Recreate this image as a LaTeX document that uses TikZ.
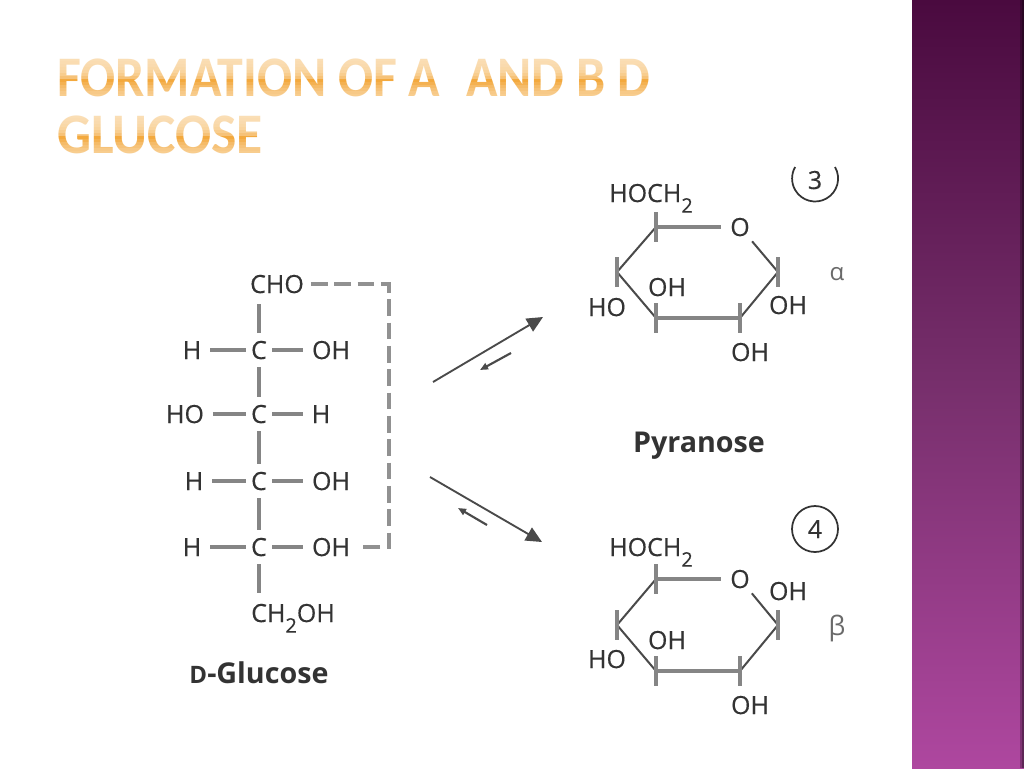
\documentclass[tikz,border=0pt]{standalone}
\usepackage{fontspec}
\setmainfont{Open Sans}
\newfontfamily\labfont{Open Sans}[FakeBold=0.35]
\newfontfamily\titlefont{Carlito}
\usetikzlibrary{arrows.meta,calc}
\definecolor{ink}{HTML}{333333}
\definecolor{bondgrey}{HTML}{858585}
\definecolor{thingrey}{HTML}{4A4A4A}
\definecolor{sidetop}{HTML}{4A0A3F}
\definecolor{sidemid}{HTML}{772F6C}
\definecolor{sidebot}{HTML}{AE479F}
\definecolor{titleorange}{HTML}{F3A93E}
\newcommand{\lab}{\labfont\fontsize{18.75}{18.75}\selectfont}
\newcommand{\subtwo}{\raisebox{-8pt}{\fontsize{15}{15}\selectfont 2}}
\tikzset{
  x=0.75pt,y=-0.75pt,
  atom/.style={inner sep=0pt,text=ink,text height=13.5pt,text depth=0pt,font=\lab,outer xsep=6.75pt,outer ysep=8pt},
  catom/.style={atom,outer xsep=4pt,outer ysep=6pt},
  bond/.style={draw=bondgrey,line width=2.3pt},
  dashbond/.style={draw=bondgrey!90!white,line width=2.3pt,dash pattern=on 12.5pt off 5pt},
  thinbond/.style={draw=thingrey,line width=1.5pt},
  flatbond/.style={draw=bondgrey,line width=2.4pt},
  tickbond/.style={draw=bondgrey,line width=2.3pt},
  bigarrow/.style={draw=thingrey,line width=1.4pt,-{Triangle[length=12pt,width=11pt]}},
  smallarrow/.style={draw=thingrey,line width=1.6pt,-{Triangle[length=6pt,width=5pt]}},
  caption/.style={inner sep=0pt,text=ink,font=\bfseries\fontsize{21.5}{21.5}\selectfont},
  greek/.style={inner sep=0pt,text=bondgrey!80!black,font=\fontsize{18}{18}\selectfont},
  titletext/.style={inner sep=0pt,anchor=base west,text=titleorange,xscale=0.905,transform shape,
    font=\titlefont\bfseries\fontsize{43}{43}\selectfont},
}
\begin{document}
\begin{tikzpicture}
\useasboundingbox (0,0) rectangle (1024,768);
\fill[white] (0,0) rectangle (1024,768);
% sidebar
\shade[top color=sidetop,bottom color=sidemid] (912,0) rectangle (1024,384.5);
\shade[top color=sidemid,bottom color=sidebot] (912,384) rectangle (1024,768);
\fill[black,opacity=.25] (1020,0) rectangle (1022,768);
\fill[black,opacity=.45] (1022,0) rectangle (1024,768);
% title
\node[titletext] (t1) at (57,96) {FORMATION OF A\,\,\,AND B D};
\node[titletext,xscale=1.03] (t2) at (57,153) {GLUCOSE};
\foreach \yy in {58,115}{
  \foreach \d/\o in {0/.62,3/.60,6/.58,9/.55,12/.50,15/.42,18/.30,21/.0,24/.10,27/.22,30/.30,33/.38,36/.42,39/.45}{
    \fill[white,opacity=\o] (40,\yy+\d) rectangle (680,\yy+\d+3);
  }
}
% open chain
\node[atom] (cho) at (277,284) {CHO};
\node[catom] (c2) at (259,350) {C};
\node[catom] (c3) at (259,414) {C};
\node[catom] (c4) at (259,481) {C};
\node[catom] (c5) at (259,547) {C};
\node[atom] (ch2oh) at (293,613) {CH\subtwo OH};
\node[atom] (h2) at (192,350) {H};
\node[atom] (oh2) at (331,350) {OH};
\node[atom] (ho3) at (185,414) {HO};
\node[atom] (h3) at (321,414) {H};
\node[atom] (h4) at (194,481) {H};
\node[atom] (oh4) at (331,481) {OH};
\node[atom] (h5) at (192,547) {H};
\node[atom] (oh5) at (331,547) {OH};
\draw[bond] (c2) -- (c2 |- cho.south);
\draw[bond] (c2) -- (c3);
\draw[bond] (c3) -- (c4);
\draw[bond] (c4) -- (c5);
\draw[bond] (c5) -- (c5 |- ch2oh.north);
\draw[bond] (h2) -- (c2);
\draw[bond] (c2) -- (oh2);
\draw[bond] (ho3) -- (c3);
\draw[bond] (c3) -- (h3);
\draw[bond] (h4) -- (c4);
\draw[bond] (c4) -- (oh4);
\draw[bond] (h5) -- (c5);
\draw[bond] (c5) -- (oh5);
\coordinate (cornera) at (389,284);
\coordinate (cornerb) at (389,547);
\draw[dashbond] ($(cho.east)+(-2,0)$) -- (cornera) -- (cornerb) -- ($(oh5.east)+(2,0)$);
\node[caption] (dglu) at (259,673) {{\fontsize{18}{18}\selectfont D}-Glucose};
% arrows
\coordinate (ua) at (433,382); \coordinate (ub) at (543,317);
\coordinate (uc) at (511,353); \coordinate (ud) at (480,370);
\coordinate (la) at (430,477); \coordinate (lb) at (542,542);
\coordinate (lc) at (487,525); \coordinate (ld) at (458,508);
\draw[bigarrow] (ua) -- (ub);
\draw[smallarrow] (uc) -- (ud);
\draw[bigarrow] (la) -- (lb);
\draw[smallarrow] (lc) -- (ld);
% alpha ring
\coordinate (ac5) at (656,227); \coordinate (ac1) at (778,272);
\coordinate (ac2) at (740,318); \coordinate (ac3) at (656,318); \coordinate (ac4) at (617,272);
\node[atom,outer xsep=7pt,outer ysep=4pt] (ao) at (740,227) {O};
\node[atom] (ahoch) at (651,193) {HOCH\subtwo};
\node[atom] (aoh3) at (667,287) {OH};
\node[atom] (aho4) at (607,307) {HO};
\node[atom] (aoh1) at (788,305) {OH};
\node[atom] (aoh2) at (750,352) {OH};
\draw[flatbond] (ac5) -- (ao);
\draw[thinbond] (ao) -- (ac1);
\draw[thinbond] (ac1) -- (ac2);
\draw[flatbond] (ac2) -- (ac3);
\draw[thinbond] (ac3) -- (ac4);
\draw[thinbond] (ac4) -- (ac5);
\foreach \n in {ac5,ac4,ac1,ac3,ac2}{\draw[tickbond] ($(\n)+(0,-15)$) -- ($(\n)+(0,15)$);}
\node[greek] (alpha) at (837,274) {α};
\node[atom] (three) at (815,180) {3};
\draw[draw=ink,line width=1.3pt] ($(three)+(20,-13)$) arc[start angle=-30,end angle=210,radius=23];
% beta ring
\coordinate (bc5) at (656,579); \coordinate (bc1) at (778,625);
\coordinate (bc2) at (740,671); \coordinate (bc3) at (656,671); \coordinate (bc4) at (617,625);
\node[atom,outer xsep=7pt,outer ysep=4pt] (bo) at (740,579) {O};
\node[atom] (bhoch) at (651,547) {HOCH\subtwo};
\node[atom] (boh1) at (788,591) {OH};
\node[atom] (boh3) at (667,640) {OH};
\node[atom] (bho4) at (607,659) {HO};
\node[atom] (boh2) at (750,705) {OH};
\draw[flatbond] (bc5) -- (bo);
\draw[thinbond] (bo) -- (bc1);
\draw[thinbond] (bc1) -- (bc2);
\draw[flatbond] (bc2) -- (bc3);
\draw[thinbond] (bc3) -- (bc4);
\draw[thinbond] (bc4) -- (bc5);
\foreach \n in {bc5,bc4,bc1,bc3,bc2}{\draw[tickbond] ($(\n)+(0,-15)$) -- ($(\n)+(0,15)$);}
\node[greek,font=\fontsize{20}{20}\selectfont] (beta) at (837,628) {β};
\node[atom,draw=none] (four) at (815,529) {4};
\draw[draw=ink,line width=1.3pt] (four) circle[radius=23];
\node[caption] (pyr) at (699,446) {Pyranose};
\end{tikzpicture}
\end{document}
